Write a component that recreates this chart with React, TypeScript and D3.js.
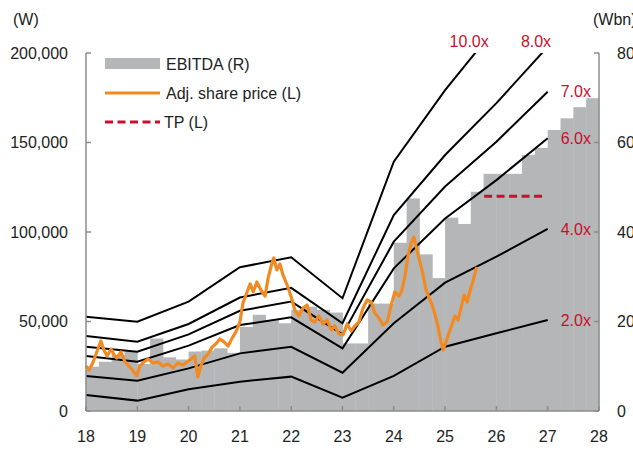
import React from 'react';
import * as d3 from 'd3';

const W = 633;
const H = 460;
const PL = 86, PR = 599, PT = 53, PB = 411;

// Years for x axis
const xTicks = [18, 19, 20, 21, 22, 23, 24, 25, 26, 27, 28];
const leftTicks = [0, 50000, 100000, 150000, 200000];
const rightTicks = [0, 20, 40, 60, 80];

// EV/EBITDA band lines (W), year-end points
const bandYears = [18, 19, 20, 21, 22, 23, 24, 25, 26, 27];
const band10 = [52700, 49900, 61100, 80300, 85900, 63000, 139300, 179300, 214600, 254000];
const band8 = [41900, 38700, 48600, 63400, 68800, 49000, 109500, 143000, 172000, 203500];
const band7 = [35900, 33100, 42800, 56000, 61100, 42800, 94600, 125400, 150400, 178400];
const band6 = [30700, 27500, 36500, 48000, 52300, 35000, 79700, 107500, 129000, 152400];
const band4 = [19600, 16900, 23800, 32200, 35900, 21400, 49000, 71700, 86200, 101700];
const band2 = [8900, 5800, 12100, 16400, 19200, 7400, 19600, 35900, 43400, 50800];
const bandLabels = ['10.0x', '8.0x', '7.0x', '6.0x', '4.0x', '2.0x'];

// Quarterly EBITDA (Wbn), 1Q18 .. 4Q27
const ebitda = [
  9.9, 11.0, 12.5, 13.3,
  10.5, 16.2, 12.0, 11.5,
  13.3, 13.5, 14.0, 13.0,
  18.8, 21.5, 20.3, 19.6,
  22.6, 23.3, 22.6, 22.0,
  15.1, 15.1, 24.0, 24.0,
  37.6, 47.5, 35.0, 29.7,
  43.2, 41.8, 49.0, 53.0,
  53.0, 53.0, 57.2, 58.8,
  62.8, 65.4, 67.9, 69.9,
];

// Adjusted share price (W)
const priceDates = [
  18.00, 18.06, 18.14, 18.21, 18.29, 18.35, 18.41, 18.49, 18.55, 18.60, 18.68, 18.76, 18.84, 18.92, 18.99,
  19.05, 19.13, 19.21, 19.31, 19.40, 19.50, 19.60, 19.70, 19.79, 19.89, 19.97,
  20.05, 20.12, 20.18, 20.24, 20.30, 20.38, 20.46, 20.53, 20.61, 20.69, 20.77, 20.85, 20.92,
  21.00, 21.06, 21.14, 21.20, 21.26, 21.33, 21.41, 21.49, 21.55, 21.61, 21.66, 21.72, 21.78, 21.84, 21.92,
  22.00, 22.07, 22.15, 22.23, 22.31, 22.39, 22.46, 22.54, 22.62, 22.70, 22.78, 22.85, 22.93,
  23.01, 23.09, 23.17, 23.24, 23.32, 23.40, 23.48, 23.56, 23.63, 23.71, 23.79, 23.87, 23.95,
  24.02, 24.10, 24.16, 24.22, 24.28, 24.34, 24.39, 24.45, 24.51, 24.57, 24.63, 24.69, 24.74, 24.80, 24.86, 24.92, 24.96,
  25.01, 25.07, 25.13, 25.19, 25.25, 25.31, 25.37, 25.43, 25.49, 25.54, 25.60, 25.62,
];
const priceValues = [
  25100, 22900, 27400, 33000, 39100, 34100, 30700, 34600, 31300, 29600, 33000, 27400, 25100, 22300, 19600,
  25100, 27400, 29100, 26800, 27400, 25100, 26300, 24000, 26800, 25700, 27400,
  29100, 30700, 19000, 25100, 29600, 31800, 35800, 37400, 40200, 38600, 36300, 40800, 44100,
  49700, 60300, 66500, 71000, 66500, 72100, 67600, 64200, 74300, 81000, 85500, 78800, 82100, 76000, 70400,
  63700, 56400, 53100, 57500, 59200, 50800, 49700, 53100, 48600, 50800, 45300, 47500, 43000,
  42500, 48600, 44700, 47500, 49700, 57500, 62000, 60900, 54800, 52000, 48000, 49700, 59200,
  66500, 64200, 67600, 76000, 87200, 93900, 97200, 90000, 83200, 76000, 67600, 63100, 59800, 54200, 47500, 38600, 34100,
  38000, 43000, 48000, 53100, 50800, 57500, 64800, 60900, 67600, 72100, 78800, 80500,
];

// Target price
const tpStart = 25.76;
const tpEnd = 26.96;
const tpValue = 120000;

const FONT = '"Liberation Sans", Arial, sans-serif';
const GRAY_BAR = '#B5B6B8';
const ORANGE = '#F28A22';
const RED = '#C8102E';
const AXIS = '#8C8C8C';

export default function App() {
  const x = d3.scaleLinear().domain([18, 28]).range([PL, PR]);
  const yL = d3.scaleLinear().domain([0, 200000]).range([PB, PT]);
  const yR = d3.scaleLinear().domain([0, 80]).range([PB, PT]);

  const bands = [band10, band8, band7, band6, band4, band2];
  const lineGen = d3.line<number>().x((_, i) => x(bandYears[i])).y((d) => yL(d));
  const priceLine = d3
    .line<number>()
    .x((_, i) => x(priceDates[i]))
    .y((d) => yL(d));

  const labelFor = (vals: number[], i: number) => {
    const last = vals[vals.length - 1];
    if (last <= 200000) {
      return { lx: x(bandYears[bandYears.length - 1]) + 13, ly: yL(last), anchor: 'start', dy: '0.35em' };
    }
    // find crossing of the 200,000 top
    let k = 0;
    while (k < vals.length - 1 && vals[k + 1] <= 200000) k++;
    const t = (200000 - vals[k]) / (vals[k + 1] - vals[k]);
    const cx = x(bandYears[k] + t);
    return { lx: cx - 6, ly: PT - 6, anchor: 'middle', dy: '0' };
  };

  return (
    <svg width={W} height={H} style={{ position: 'absolute', left: 0, top: 0, background: '#fff' }} fontFamily={FONT}>
      <defs>
        <clipPath id="plot">
          <rect x={PL} y={PT} width={PR - PL} height={PB - PT} />
        </clipPath>
      </defs>

      {/* EBITDA bars */}
      <g>
        {ebitda.map((v, i) => {
          const x0 = x(18 + i * 0.25);
          const x1 = x(18 + (i + 1) * 0.25);
          return (
            <rect key={i} x={x0} y={yR(v)} width={x1 - x0 + 0.4} height={PB - yR(v)} fill={GRAY_BAR} />
          );
        })}
      </g>

      {/* band lines */}
      <g clipPath="url(#plot)">
        {bands.map((b, i) => (
          <path key={i} d={lineGen(b) || ''} fill="none" stroke="#000" strokeWidth={2} />
        ))}
      </g>

      {/* price */}
      <path d={priceLine(priceValues) || ''} fill="none" stroke={ORANGE} strokeWidth={3.2} strokeLinejoin="round" />

      {/* TP */}
      <line x1={x(tpStart)} x2={x(tpEnd)} y1={yL(tpValue)} y2={yL(tpValue)} stroke={RED} strokeWidth={3} strokeDasharray="8 4.5" />

      {/* band labels */}
      {bands.map((b, i) => {
        const p = labelFor(b, i);
        return (
          <text key={i} x={p.lx} y={p.ly} dy={p.dy} textAnchor={p.anchor as any} fill={RED} fontSize={16}>
            {bandLabels[i]}
          </text>
        );
      })}

      {/* axes */}
      <line x1={PL} x2={PL} y1={PT} y2={PB} stroke={AXIS} strokeWidth={1.5} />
      <line x1={PR} x2={PR} y1={PT} y2={PB} stroke={AXIS} strokeWidth={1.5} />
      <line x1={PL} x2={PR} y1={PB} y2={PB} stroke={AXIS} strokeWidth={1.5} />
      {leftTicks.map((t) => (
        <g key={t}>
          <line x1={PL} x2={PL + 5} y1={yL(t)} y2={yL(t)} stroke={AXIS} strokeWidth={1.5} />
          <text x={68} y={yL(t)} dy="0.36em" textAnchor="end" fontSize={16} fill="#222">
            {d3.format(',')(t)}
          </text>
        </g>
      ))}
      {rightTicks.map((t) => (
        <g key={t}>
          <line x1={PR - 5} x2={PR} y1={yR(t)} y2={yR(t)} stroke={AXIS} strokeWidth={1.5} />
          <text x={617} y={yR(t)} dy="0.36em" textAnchor="start" fontSize={16} fill="#222">
            {t}
          </text>
        </g>
      ))}
      {xTicks.map((t) => (
        <g key={t}>
          <line x1={x(t)} x2={x(t)} y1={PB} y2={PB - 5} stroke={AXIS} strokeWidth={1.5} />
          <text x={x(t)} y={442} textAnchor="middle" fontSize={16} fill="#222">
            {t}
          </text>
        </g>
      ))}
      <text x={13} y={25} fontSize={16} fill="#222">(W)</text>
      <text x={593} y={25} fontSize={16} fill="#222">(Wbn)</text>

      {/* legend */}
      <rect x={105} y={58} width={55} height={11} fill={GRAY_BAR} />
      <text x={166} y={64} dy="0.36em" fontSize={16} fill="#222">EBITDA (R)</text>
      <line x1={105} x2={160} y1={93} y2={93} stroke={ORANGE} strokeWidth={3} />
      <text x={166} y={93} dy="0.36em" fontSize={16} fill="#222">Adj. share price (L)</text>
      <line x1={105} x2={160} y1={122} y2={122} stroke={RED} strokeWidth={3} strokeDasharray="8 4.5" />
      <text x={164} y={122} dy="0.36em" fontSize={16} fill="#222">TP (L)</text>
    </svg>
  );
}
